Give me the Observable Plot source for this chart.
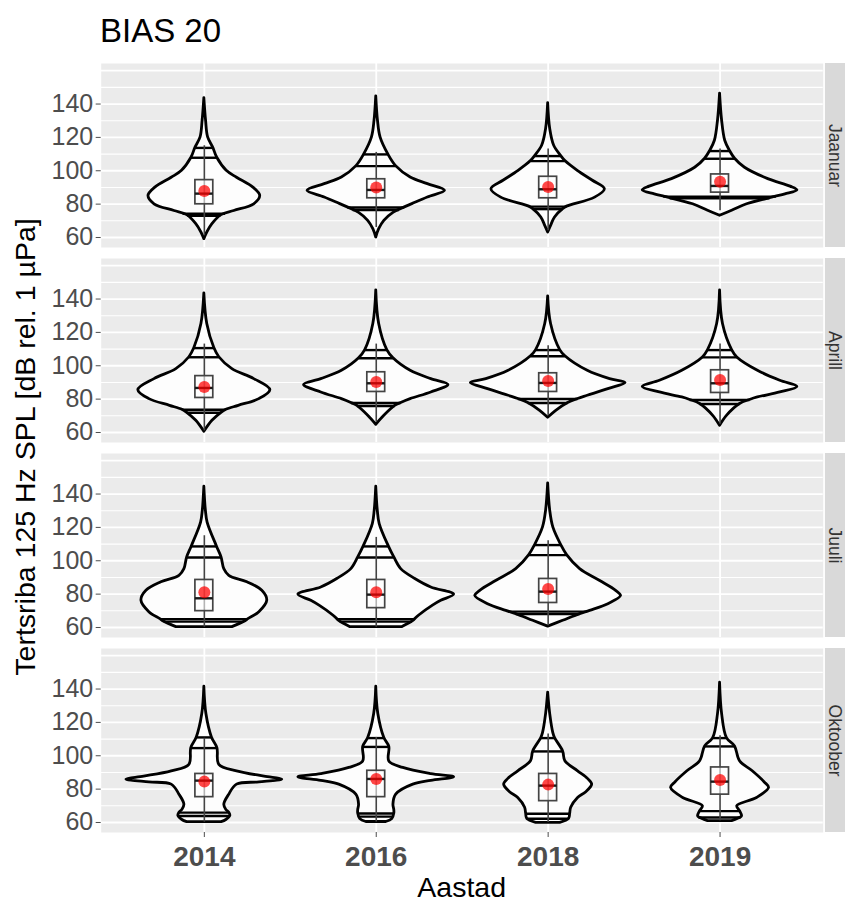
<!DOCTYPE html>
<html><head><meta charset="utf-8">
<script src="https://cdn.jsdelivr.net/npm/d3@7"></script>
<script src="https://cdn.jsdelivr.net/npm/@observablehq/plot@0.6"></script>
<style>
body{margin:0;background:#fff;font-family:"Liberation Sans",Arial,sans-serif;}
#title{height:56px;box-sizing:border-box;padding:14px 0 0 100px;font-size:33px;line-height:1;color:#000;}
</style></head><body>
<div id="title">BIAS 20</div>
<div id="chart"></div>
<script>
const months = ["Jaanuar", "Aprill", "Juuli", "Oktoober"];
const years = ["2014", "2016", "2018", "2019"];
const yTicks = [60, 80, 100, 120, 140];
const gridValues = [60, 70, 80, 90, 100, 110, 120, 130, 140, 150, 160];

// violin outlines: [dB value, half-width of density] from top to bottom, one per year
const violinJaanuar = [
  [[143.6,0],[130,0.01],[120,0.022],[113.7,0.052],[107.8,0.075],[100,0.13],[95.8,0.19],[89.9,0.285],[84.9,0.325],[79.9,0.29],[75.9,0.174],[73.4,0.10],[68,0.047],[63,0.017],[59,0]],
  [[144.6,0],[130,0.01],[120,0.025],[109.8,0.07],[102.8,0.115],[96,0.2],[92,0.3],[88,0.4],[84,0.3],[80,0.21],[77.9,0.163],[74.8,0.1],[70,0.047],[65,0.017],[60,0]],
  [[140.6,0],[125,0.012],[115,0.035],[108.8,0.076],[105.8,0.1],[99.8,0.174],[94,0.26],[88.9,0.33],[83.9,0.273],[78.5,0.11],[77,0.087],[72,0.04],[67,0.017],[63,0]],
  [[146.2,0],[130,0.012],[118,0.03],[111.8,0.058],[107.2,0.087],[101.8,0.145],[95,0.28],[90.5,0.41],[88.3,0.45],[85.9,0.38],[84.3,0.32],[79.9,0.157],[76,0.07],[73,0]]
];
const violinAprill = [
  [[143.4,0],[125,0.017],[110.6,0.058],[105.1,0.087],[98,0.163],[92,0.29],[85.4,0.384],[80,0.32],[76,0.2],[73.6,0.128],[71.8,0.1],[67,0.047],[60.4,0]],
  [[145.2,0],[125,0.017],[109.4,0.064],[104.5,0.1],[97,0.2],[92,0.32],[88.5,0.42],[84,0.32],[80,0.2],[77.7,0.145],[75.9,0.11],[70,0.047],[64.6,0]],
  [[141.6,0],[125,0.017],[109.4,0.07],[105.7,0.1],[97,0.23],[92,0.36],[89.7,0.45],[86,0.35],[82,0.23],[80.1,0.174],[77.7,0.116],[73,0.047],[68.8,0]],
  [[145.2,0],[125,0.017],[109.4,0.07],[105,0.1],[97,0.22],[91,0.35],[87.3,0.45],[84,0.35],[81,0.22],[79.5,0.174],[77.1,0.116],[70,0.04],[64,0]]
];
const violinJuuli = [
  [[144.4,0],[130,0.009],[122.9,0.019],[108.6,0.073],[102,0.1],[95,0.116],[91,0.145],[87.1,0.25],[82,0.337],[76.1,0.366],[69.2,0.32],[65,0.256],[63.4,0.233],[60.2,0.163]],
  [[144.4,0],[130,0.009],[122,0.02],[108.6,0.073],[102,0.105],[95,0.145],[89.1,0.227],[84,0.32],[79.7,0.453],[76,0.378],[73.1,0.33],[67.2,0.25],[65,0.227],[63.5,0.21],[60.2,0.15]],
  [[146.4,0],[130,0.012],[120,0.03],[109.4,0.076],[103.4,0.11],[95,0.186],[88,0.3],[82,0.395],[78.9,0.424],[74,0.35],[70,0.244],[68,0.186],[64,0.087],[60.5,0]],
  null
];
const violinOktoober = [
  [[141.4,0],[125,0.012],[111,0.044],[104.6,0.076],[94.6,0.087],[90.7,0.19],[87.5,0.35],[85.7,0.453],[84,0.32],[82.7,0.19],[76.7,0.145],[70.7,0.116],[67.5,0.128],[65.9,0.145],[63.9,0.151],[61.5,0.128],[60.2,0.1]],
  [[141.4,0],[125,0.012],[110.6,0.047],[105.3,0.076],[96.6,0.076],[92.7,0.157],[89,0.32],[87.1,0.453],[85,0.32],[82.7,0.215],[76.7,0.116],[70.7,0.1],[67.4,0.105],[65.4,0.105],[62,0.093],[60.3,0.058]],
  [[137.8,0],[125,0.012],[113.6,0.03],[110.6,0.04],[102.6,0.087],[96.7,0.1],[90.7,0.174],[86,0.233],[82.7,0.256],[78,0.22],[74.7,0.174],[68.8,0.134],[65.2,0.128],[62.2,0.122],[59.8,0.07]],
  [[143.8,0],[125,0.012],[110.6,0.04],[105.6,0.087],[96.7,0.116],[90.7,0.19],[84,0.26],[80.7,0.285],[74.7,0.215],[69.8,0.1],[66.8,0.116],[63.8,0.128],[63,0.122],[60.8,0.07]]
];

// quantile lines drawn across each violin
const quantJaanuar = [[73.0,74.2,107.8,113.7],[76.5,78,102.8,109.8],[77,78.5,105.8,108.8],[83.5,84.5,107.2,111.8]];
const quantAprill = [[71.8,73.6,105.1,110.6],[75.9,77.7,104.5,109.4],[77.7,80.1,105.7,109.4],[77.1,79.5,105,109.4]];
const quantJuuli = [[63.5,65,102,108.6],[63.5,65,102,108.6],[68,69.5,103.4,109.4],null];
const quantOktoober = [[63.9,65.9,104.6,111],[63.5,65.4,105.3,110.6],[62.2,65.2,102.6,110.6],[63.0,66.8,105.6,110.6]];

// boxplots: [q1, median, q3, lower whisker, upper whisker]
const boxJaanuar = [[79.9,86.3,94.4,61,115],[83.5,88.5,94.9,66,111],[83.5,88.9,96.4,64,113],[86.9,90.9,97.8,76,113]];
const boxAprill = [[80.7,86.7,93.8,61,113],[84.3,89.5,96.1,66,113],[84.3,89.7,95.5,70,112],[83.7,89.5,97.3,65,113]];
const boxJuuli = [[69.8,77.5,88.5,60.2,115],[71.6,79.7,88.5,60.2,114],[74.7,81.5,89.1,61,112],null];
const boxOktoober = [[75.2,85.1,89.1,60.2,110.5],[75.2,86.1,91,60.3,111],[72.8,82.1,89.1,60,113],[76.7,84.5,93,61,112]];

// means (red points)
const meanJaanuar = [87.9, 89.9, 90.3, 93.4];
const meanAprill = [87.3, 90.3, 90.9, 91.5];
const meanJuuli = [81.1, 81.1, 83.1, null];
const meanOktoober = [84.5, 86.1, 82.7, 85.5];

const violins = {Jaanuar: violinJaanuar, Aprill: violinAprill, Juuli: violinJuuli, Oktoober: violinOktoober};
const quants = {Jaanuar: quantJaanuar, Aprill: quantAprill, Juuli: quantJuuli, Oktoober: quantOktoober};
const boxes = {Jaanuar: boxJaanuar, Aprill: boxAprill, Juuli: boxJuuli, Oktoober: boxOktoober};
const means = {Jaanuar: meanJaanuar, Aprill: meanAprill, Juuli: meanJuuli, Oktoober: meanOktoober};

function widthAt(prof, v) {
  for (let k = 0; k < prof.length - 1; k++) {
    const [v0, w0] = prof[k], [v1, w1] = prof[k + 1];
    if (v <= v0 && v >= v1) { const t = (v0 - v) / (v0 - v1); return w0 + (w1 - w0) * t; }
  }
  return 0;
}

const violinPts = [], quantRows = [], boxRows = [];
months.forEach(m => {
  years.forEach((yr, i) => {
    const prof = violins[m][i];
    if (!prof) return;
    prof.forEach(([v, w]) => violinPts.push({month: m, key: m + yr, xi: i + 1, v, w}));
    quants[m][i].forEach(v => quantRows.push({month: m, xi: i + 1, v, w: widthAt(prof, v)}));
    const [q1, med, q3, lo, hi] = boxes[m][i];
    boxRows.push({month: m, xi: i + 1, q1, med, q3, lo, hi, mean: means[m][i]});
  });
});

const boxHalf = 0.052;
const chart = Plot.plot({
  width: 845, height: 847,
  marginLeft: 100.7, marginRight: 22.3, marginTop: 6, marginBottom: 69.7,
  style: {fontFamily: "Liberation Sans, Arial, sans-serif", background: "white"},
  x: {domain: [0.4, 4.6], axis: null},
  y: {domain: [54, 164.3], axis: null},
  fy: {domain: months, axis: null, paddingInner: 0.058, paddingOuter: 0},
  marks: [
    Plot.frame({fill: "#EBEBEB", stroke: "none"}),
    Plot.ruleY(gridValues, {x1: 0.4, x2: 4.6, stroke: "white", strokeWidth: d => d % 20 === 0 ? 1.8 : 1.1}),
    Plot.ruleX([1, 2, 3, 4], {stroke: "white", strokeWidth: 1.8}),
    Plot.rect(months, {fy: d => d, x1: 4.613, x2: 4.9, y1: 54, y2: 164.3, fill: "#D9D9D9"}),
    Plot.text(months, {fy: d => d, text: d => d, x: 4.669, y: 109.15, rotate: 90, fontSize: 17.5, fill: "#333333"}),
    Plot.areaX(violinPts, {fy: "month", z: "key", y: "v", x1: d => d.xi - d.w, x2: d => d.xi + d.w, fill: "#FDFDFD", stroke: "black", strokeWidth: 2.8, strokeLinejoin: "round", curve: "catmull-rom"}),
    Plot.ruleY(quantRows, {fy: "month", y: "v", x1: d => d.xi - d.w, x2: d => d.xi + d.w, stroke: "black", strokeWidth: 2.4}),
    Plot.ruleX(boxRows, {fy: "month", x: "xi", y1: "lo", y2: "hi", stroke: "#444444", strokeWidth: 1.6}),
    Plot.rect(boxRows, {fy: "month", x1: d => d.xi - boxHalf, x2: d => d.xi + boxHalf, y1: "q1", y2: "q3", fill: "white", fillOpacity: 0.6, stroke: "#444444", strokeWidth: 1.7}),
    Plot.ruleY(boxRows, {fy: "month", y: "med", x1: d => d.xi - boxHalf, x2: d => d.xi + boxHalf, stroke: "#1A1A1A", strokeWidth: 2.4}),
    Plot.dot(boxRows, {fy: "month", x: "xi", y: "mean", r: 6, fill: "red", fillOpacity: 0.72, stroke: "none"}),
    Plot.axisY(yTicks, {tickSize: 5, tickPadding: 3, fontSize: 25, color: "#4D4D4D", label: null}),
    Plot.axisX([1, 2, 3, 4], {tickFormat: d => years[d - 1], tickSize: 5, tickPadding: 8.4, fontSize: 28, fontWeight: "bold", color: "#4D4D4D", label: null})
  ]
});
document.getElementById("chart").appendChild(chart);
const svg = d3.select(chart);
svg.append("text")
  .attr("transform", "translate(35,391) rotate(-90)")
  .attr("text-anchor", "middle")
  .style("font-size", "28.5px").style("fill", "#000")
  .text("Tertsriba 125 Hz SPL [dB rel. 1 µPa]");
svg.append("text")
  .attr("x", 461.7).attr("y", 841)
  .attr("text-anchor", "middle")
  .style("font-size", "28.5px").style("fill", "#000")
  .text("Aastad");
</script></body></html>
